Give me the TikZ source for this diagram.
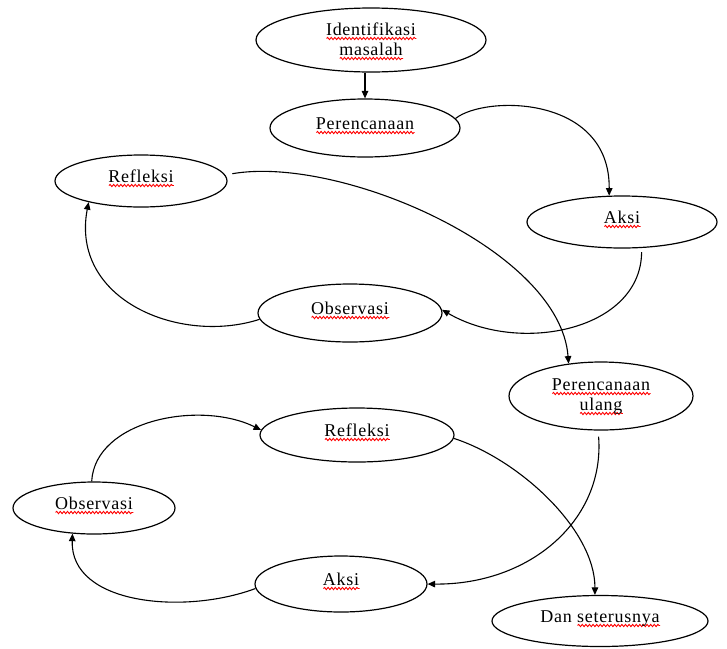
\documentclass[tikz,border=0pt]{standalone}
\usepackage{fontspec}
\setmainfont{Liberation Serif}[LetterSpace=4]
\usetikzlibrary{shapes.geometric,arrows.meta,decorations.pathmorphing}
\newsavebox\swbox
\newlength\swlen
\newcommand{\sw}[1]{\sbox\swbox{#1}\setlength\swlen{\wd\swbox}\leavevmode\rlap{\tikz[baseline=0pt,x=1pt,y=1pt]\draw[red,line width=0.9pt,decorate,decoration={snake,amplitude=1.1pt,segment length=3.6pt}] (0pt,-3.5pt) -- (\swlen,-3.5pt);}\usebox\swbox}
\tikzset{
  ell/.style={draw, ellipse, line width=1.2pt, inner sep=0pt, align=center,
    font=\fontsize{18}{20}\selectfont, text height=8pt, text depth=6pt},
  conn/.style={line width=1.1pt, -{Triangle[length=7.5pt,width=6.5pt]}}
}
\begin{document}
\begin{tikzpicture}[x=1pt,y=-1pt]
\useasboundingbox (0,0) rectangle (727,648);
\node[ell, minimum width=230pt, minimum height=64pt, text height=34pt, text depth=4pt] (id) at (371,40) {\sw{Identifikasi}\\\sw{masalah}};
\node[ell, minimum width=190pt, minimum height=58pt] (per) at (365,128) {\sw{Perencanaan}};
\node[ell, minimum width=172pt, minimum height=52pt] (ref1) at (141,181) {\sw{Refleksi}};
\node[ell, minimum width=190pt, minimum height=52pt] (aksi1) at (622,222) {\sw{Aksi}};
\node[ell, minimum width=184pt, minimum height=58pt] (obs1) at (350,313) {\sw{Observasi}};
\node[ell, minimum width=184pt, minimum height=68pt, text height=32pt, text depth=4pt] (pu) at (601,396) {\sw{Perencanaan}\\\sw{ulang}};
\node[ell, minimum width=194pt, minimum height=54pt] (ref2) at (357,435) {\sw{Refleksi}};
\node[ell, minimum width=162pt, minimum height=52pt] (obs2) at (94,508) {\sw{Observasi}};
\node[ell, minimum width=172pt, minimum height=56pt] (aksi2) at (341,584) {\sw{Aksi}};
\node[ell, minimum width=216pt, minimum height=51pt] (dan) at (600,621) {Dan \sw{seterusnya}};

\draw[conn] (id.south -| per.north) -- (per.north);
\draw[conn] (per.6) .. controls (485,95) and (610,95) .. (aksi1.116);
\draw[conn] ([yshift=-4pt]aksi1.307) .. controls (641,330) and (520,355) .. (obs1.2);
\draw[conn] (obs1.184) .. controls (180,345) and (70,300) .. (ref1.202);
\draw[conn] ([xshift=8pt]ref1.5) .. controls (340,155) and (560,250) .. (pu.135);
\draw[conn] ([yshift=-6pt]pu.266) .. controls (605,520) and (530,585) .. (aksi2.east);
\draw[conn] (aksi2.183) .. controls (185,615) and (70,605) .. (obs2.230);
\draw[conn] (obs2.95) .. controls (95,420) and (200,400) .. (ref2.177);
\draw[conn] (ref2.358) .. controls (520,460) and (595,530) .. (dan.101);
\end{tikzpicture}
\end{document}
